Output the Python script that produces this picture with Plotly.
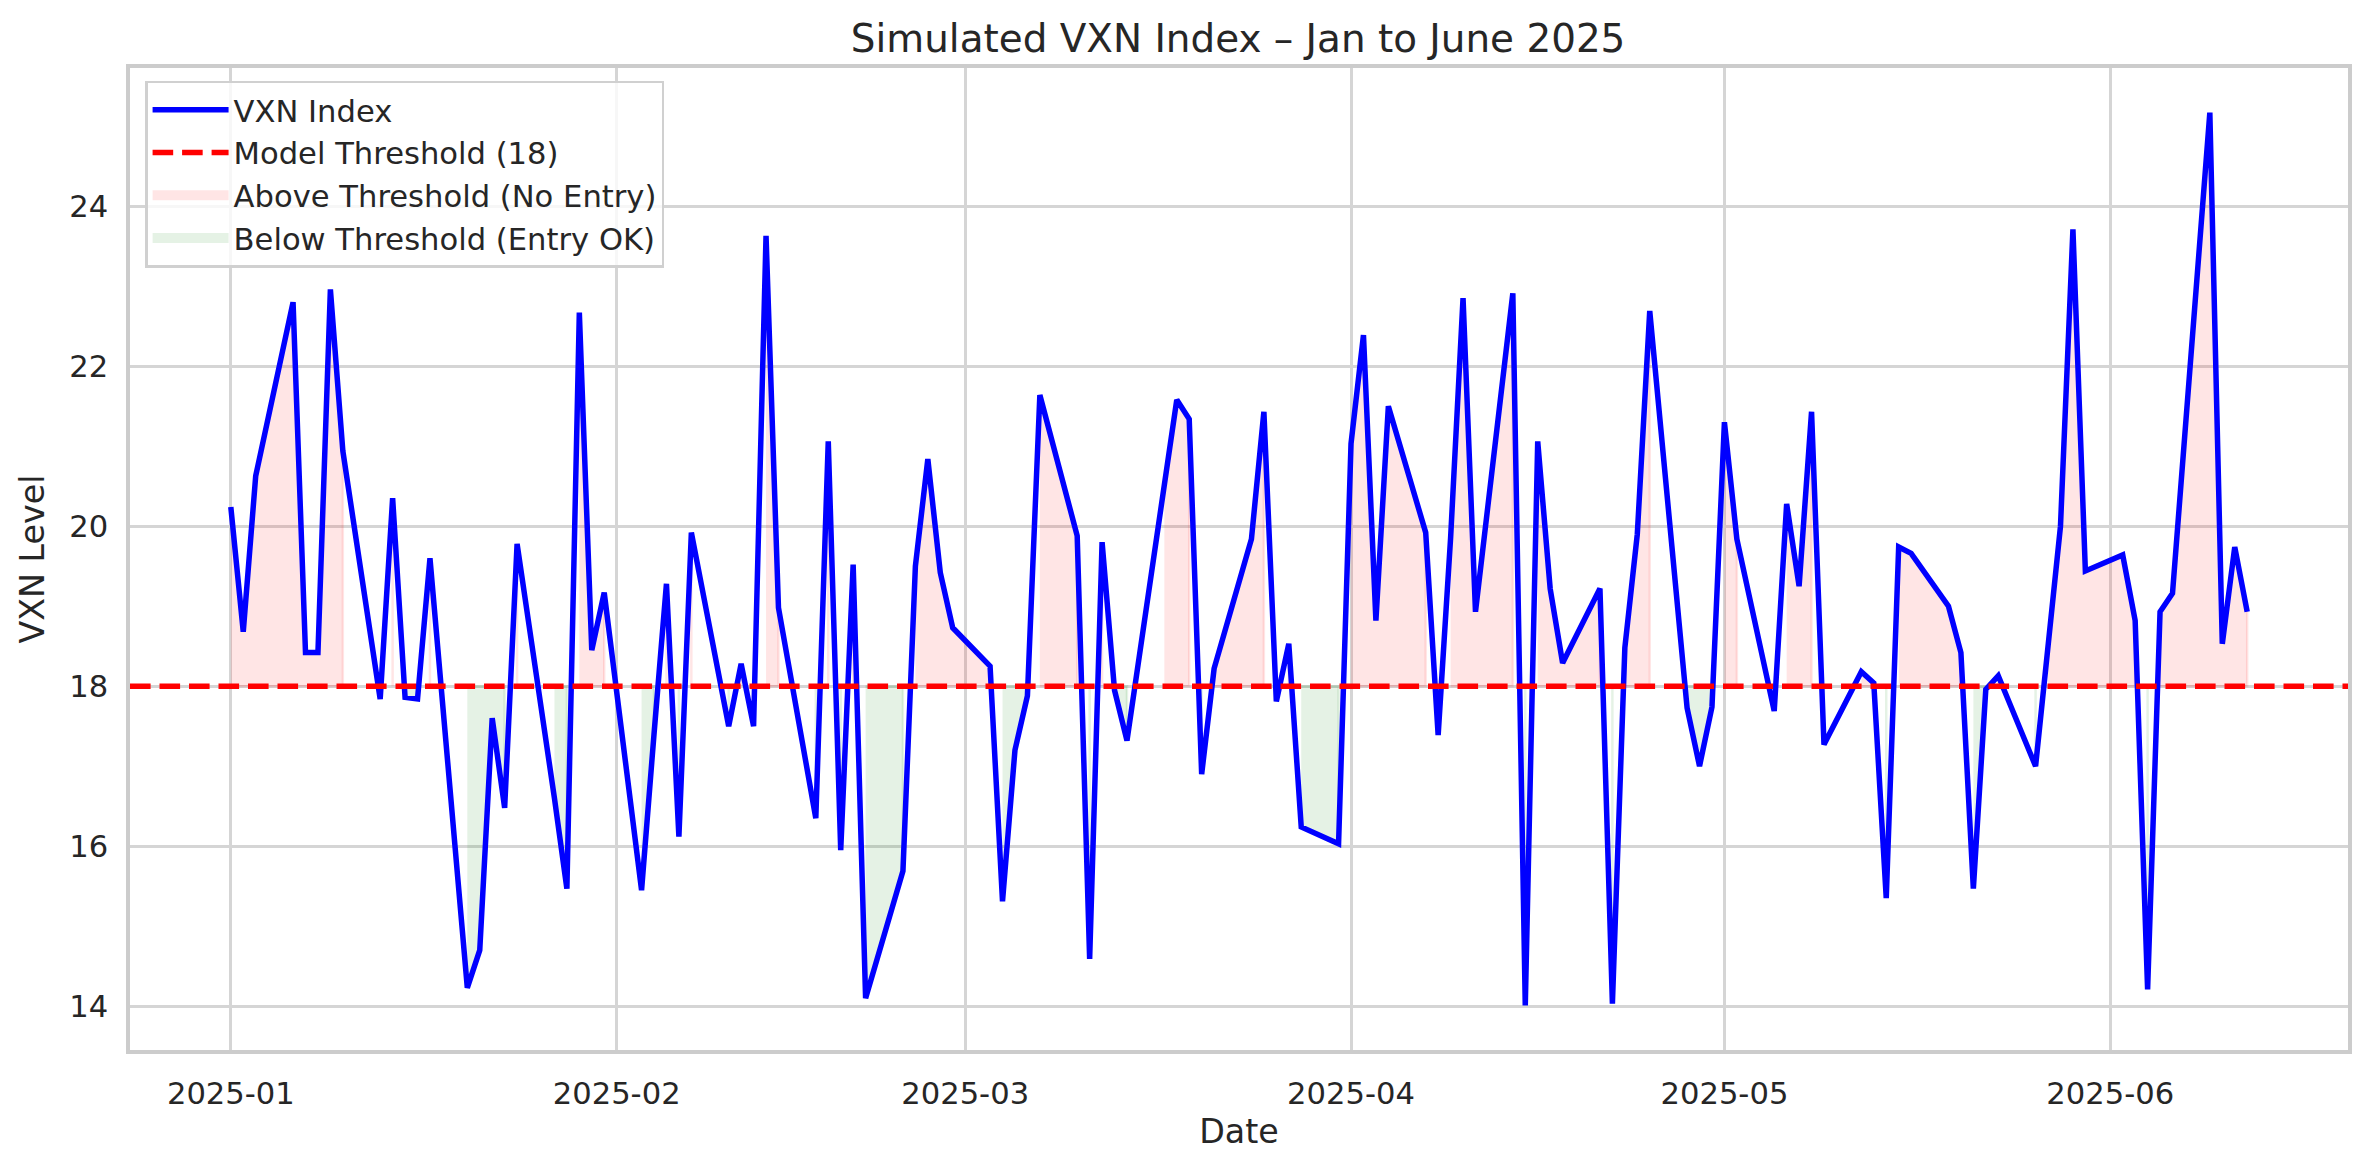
import pandas as pd
import plotly.graph_objects as go

# ---- data -------------------------------------------------------------
dates = pd.bdate_range("2025-01-01", "2025-06-12")
vxn = [
    # Jan
    20.24, 18.68, 20.63, 22.80, 18.42, 18.42, 22.96, 20.94, 17.84, 20.35,
    17.86, 17.84, 19.60, 14.23, 14.70, 17.60, 16.48, 19.78, 16.60, 15.47,
    22.67, 18.45, 19.17,
    # Feb
    15.45, 17.40, 19.28, 16.12, 19.92, 17.50, 18.28, 17.50, 23.63, 18.98,
    16.35, 21.06, 15.95, 19.52, 14.10, 15.69, 19.50, 20.84, 19.42, 18.73,
    # Mar
    18.25, 15.31, 17.20, 17.88, 21.64, 19.88, 14.59, 19.80, 17.95, 17.32,
    20.50, 21.58, 21.34, 16.90, 18.22, 19.84, 21.43, 17.81, 18.53, 16.24,
    16.03,
    # Apr
    21.03, 22.39, 18.82, 21.50, 19.92, 17.39, 19.85, 22.85, 18.93, 22.91,
    14.01, 21.06, 19.22, 18.29, 19.22, 14.03, 18.48, 19.90, 22.69, 17.73,
    17.00, 17.74,
    # May
    21.30, 19.84, 17.69, 20.28, 19.25, 21.43, 17.27, 18.18, 18.04, 15.35,
    19.74, 19.66, 19.00, 18.42, 15.47, 17.96, 18.13, 17.00, 18.50, 20.00,
    23.71, 19.44,
    # Jun
    19.64, 18.82, 14.21, 18.93, 19.16, 25.17, 18.53, 19.74, 18.93,
]
threshold = 18
tick_dates = ["2025-01-01", "2025-02-01", "2025-03-01", "2025-04-01",
              "2025-05-01", "2025-06-01"]
tick_labels = ["2025-01", "2025-02", "2025-03", "2025-04", "2025-05", "2025-06"]

title = "Simulated VXN Index \u2013 Jan to June 2025"
x_title = "Date"
y_title = "VXN Level"
name_line = "VXN Index"
name_thr = "Model Threshold (18)"
name_above = "Above Threshold (No Entry)"
name_below = "Below Threshold (Entry OK)"

# ---- style -------------------------------------------------------------
FONT = "DejaVu Sans"
TXT = "#262626"
GRID = "#d5d5d5"
SPINE = "#cccccc"
RED_FILL = "rgba(255,0,0,0.1)"
GREEN_FILL = "rgba(0,128,0,0.1)"

# the page body has an 8px default margin; size the figure to fit inside it
W, H = 2352, 1152

fig = go.Figure()


def runs(mask):
    out, cur = [], []
    for i, m in enumerate(mask):
        if m:
            cur.append(i)
        elif cur:
            out.append(cur)
            cur = []
    if cur:
        out.append(cur)
    return out


def add_fill(mask, color, name, rank):
    for r in runs(mask):
        xs = [dates[i] for i in r] + [dates[i] for i in reversed(r)]
        ys = [vxn[i] for i in r] + [threshold] * len(r)
        fig.add_trace(go.Scatter(
            x=xs, y=ys, mode="lines", fill="toself", fillcolor=color,
            line=dict(color=color, width=2.5), name=name,
            legendgroup=name, showlegend=False, hoverinfo="skip"))
    # legend swatch (a wide translucent band, like matplotlib's patch)
    fig.add_trace(go.Scatter(
        x=[None], y=[None], mode="lines", name=name,
        line=dict(color=color, width=20), legendgroup=name,
        showlegend=True, legendrank=rank))


add_fill([v > threshold for v in vxn], RED_FILL, name_above, 3)
add_fill([v <= threshold for v in vxn], GREEN_FILL, name_below, 4)

fig.add_trace(go.Scatter(
    x=list(dates), y=vxn, mode="lines", name=name_line,
    line=dict(color="#0000ff", width=5.5), legendgroup=name_line,
    legendrank=1))

# axis limits with matplotlib-like 5% margins
span = dates[-1] - dates[0]
x0 = dates[0] - span * 0.05
x1 = dates[-1] + span * 0.05
ymin, ymax = min(vxn), max(vxn)
ypad = (ymax - ymin) * 0.05

fig.add_trace(go.Scatter(
    x=[x0, x1], y=[threshold, threshold], mode="lines", name=name_thr,
    line=dict(color="#ff0000", width=5.5, dash="20.6px,8.9px"),
    legendgroup=name_thr, legendrank=2, hoverinfo="skip"))

axis_common = dict(
    showgrid=True, gridcolor=GRID, gridwidth=2.6,
    showline=True, linecolor=SPINE, linewidth=3.5, mirror=True,
    ticks="", zeroline=False, automargin=False,
    tickfont=dict(family=FONT, size=30.6, color=TXT),
    title_font=dict(family=FONT, size=33.3, color=TXT),
)

fig.update_layout(
    width=W, height=H,
    margin=dict(l=122, r=12, t=60, b=110),
    paper_bgcolor="white", plot_bgcolor="white",
    font=dict(family=FONT, color=TXT),
    title=dict(text=title, x=0.523, xanchor="center", y=1 - 30 / H,
               yanchor="middle", yref="container",
               font=dict(family=FONT, size=38.9, color=TXT)),
    xaxis=dict(range=[x0, x1], tickvals=tick_dates, ticktext=tick_labels,
               title=dict(text=x_title, standoff=10), ticklabelstandoff=14,
               **axis_common),
    yaxis=dict(range=[ymin - ypad, ymax + ypad], dtick=2, tick0=14,
               title=dict(text=y_title, standoff=16), ticklabelstandoff=12,
               **axis_common),
    legend=dict(x=0.0068, y=0.987, xanchor="left", yanchor="top",
                bgcolor="rgba(255,255,255,0.8)", bordercolor="#d0d0d0",
                borderwidth=2.5, traceorder="grouped", tracegroupgap=0,
                font=dict(family=FONT, size=30.6, color=TXT),
                itemwidth=76),
    showlegend=True,
)

fig.write_html("out.html")
